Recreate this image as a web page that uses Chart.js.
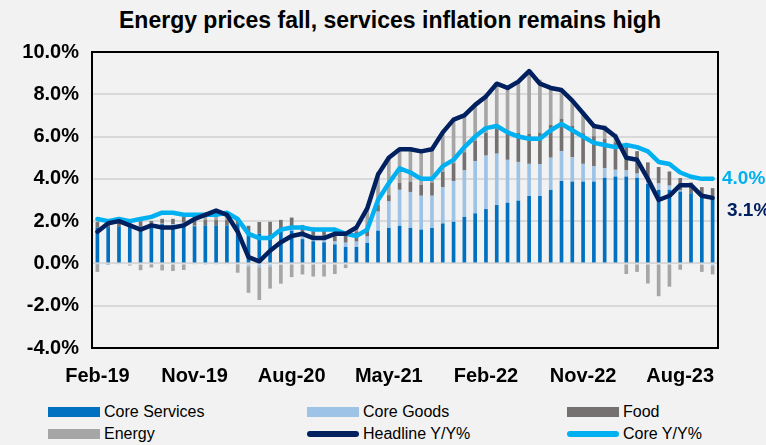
<!DOCTYPE html>
<html>
<head>
<meta charset="utf-8">
<script src="https://cdn.jsdelivr.net/npm/chart.js@4.4.1/dist/chart.umd.min.js"></script>
<style>
    body { margin: 0; background: #f2f2f2; }
    #wrap { position: relative; width: 766px; height: 445px; background: #f2f2f2; font-family: "Liberation Sans", Arial, sans-serif; }
    #title { position: absolute; top: 7px; left: 0; width: 780px; text-align: center; font-weight: bold; font-size: 23px; color: #000; }
    #chartBox { position: absolute; top: 0; left: 0; width: 766px; height: 390px; }
    .legend-item { position: absolute; display: flex; align-items: center; font-size: 16px; color: #000; height: 20px; }
    .swatch { width: 52px; margin-right: 4px; }
</style>
</head>
<body>
<div id="wrap">
    <div id="title">Energy prices fall, services inflation remains high</div>
    <div id="chartBox"><canvas id="cpiChart" width="766" height="390"></canvas></div>
    <div id="legend"></div>
</div>
<script>
// Monthly categories, Feb-19 .. Nov-23
const months = ['Feb-19','Mar-19','Apr-19','May-19','Jun-19','Jul-19','Aug-19','Sep-19','Oct-19','Nov-19','Dec-19',
    'Jan-20','Feb-20','Mar-20','Apr-20','May-20','Jun-20','Jul-20','Aug-20','Sep-20','Oct-20','Nov-20','Dec-20',
    'Jan-21','Feb-21','Mar-21','Apr-21','May-21','Jun-21','Jul-21','Aug-21','Sep-21','Oct-21','Nov-21','Dec-21',
    'Jan-22','Feb-22','Mar-22','Apr-22','May-22','Jun-22','Jul-22','Aug-22','Sep-22','Oct-22','Nov-22','Dec-22',
    'Jan-23','Feb-23','Mar-23','Apr-23','May-23','Jun-23','Jul-23','Aug-23','Sep-23','Oct-23','Nov-23'];

// Contributions to headline (pp)
const coreServices = [1.70,1.72,1.76,1.72,1.74,1.76,1.86,1.80,1.88,1.76,1.80,1.80,1.80,1.86,
    1.30,1.41,1.35,1.50,1.55,1.15,1.05,1.00,0.90,
    0.78,0.78,0.97,1.55,1.68,1.78,1.68,1.60,1.68,1.89,1.97,2.20,2.37,
    2.57,2.76,2.87,2.97,3.19,3.19,3.48,3.90,3.87,3.87,3.87,
    4.05,4.11,4.11,4.05,3.76,3.48,3.48,3.40,3.32,3.16,3.16];
const coreGoods = [-0.02,-0.02,-0.04,-0.05,-0.06,-0.04,0.02,0.06,0.04,0.02,-0.02,-0.06,-0.04,-0.04,
    -0.14,-0.18,-0.14,-0.06,0.06,0.14,0.12,0.16,0.14,
    0.20,0.25,0.30,0.90,1.25,1.70,1.70,1.60,1.52,1.71,1.93,2.20,2.46,
    2.53,2.43,2.03,1.83,1.52,1.51,1.52,1.40,1.16,0.84,0.72,
    0.45,0.32,0.29,0.20,0.10,0.30,0.20,0.05,0.00,-0.05,-0.12];
const food = [0.27,0.29,0.25,0.27,0.26,0.25,0.23,0.25,0.29,0.27,0.25,0.25,0.25,0.27,
    0.48,0.55,0.62,0.56,0.56,0.53,0.53,0.51,0.53,
    0.52,0.49,0.48,0.33,0.30,0.33,0.47,0.51,0.63,0.73,0.84,0.86,0.96,
    1.08,1.20,1.29,1.38,1.43,1.49,1.56,1.53,1.49,1.45,1.43,
    1.38,1.30,1.16,1.06,0.92,0.78,0.67,0.59,0.51,0.45,0.40];
const energy = [-0.38,-0.03,0.13,-0.05,-0.26,-0.15,-0.33,-0.36,-0.31,-0.04,0.25,0.45,0.20,-0.40,
    -1.25,-1.55,-1.05,-0.90,-0.65,-0.52,-0.62,-0.62,-0.50,
    -0.22,0.15,0.80,1.55,1.80,1.55,1.50,1.60,1.60,1.95,2.05,1.80,1.75,
    1.80,2.15,2.15,2.45,3.00,2.50,1.80,1.40,1.20,1.00,0.55,
    0.65,0.40,-0.50,-0.40,-0.95,-1.55,-1.10,-0.30,-0.05,-0.35,-0.40];

// Y/Y % lines
const headline = [1.5,1.9,2.0,1.8,1.6,1.8,1.7,1.7,1.8,2.1,2.3,2.5,2.3,1.5,
    0.3,0.1,0.6,1.0,1.3,1.4,1.2,1.2,1.4,
    1.4,1.7,2.6,4.2,5.0,5.4,5.4,5.3,5.4,6.2,6.8,7.0,7.5,
    7.9,8.5,8.3,8.6,9.1,8.5,8.3,8.2,7.7,7.1,6.5,
    6.4,6.0,5.0,4.9,4.0,3.0,3.2,3.7,3.7,3.2,3.1];
const core = [2.1,2.0,2.1,2.0,2.1,2.2,2.4,2.4,2.3,2.3,2.3,2.3,2.4,2.1,
    1.4,1.2,1.2,1.6,1.7,1.7,1.6,1.6,1.6,
    1.4,1.3,1.6,3.0,3.8,4.5,4.3,4.0,4.0,4.6,4.9,5.5,6.0,
    6.4,6.5,6.2,6.0,5.9,5.9,6.3,6.6,6.3,6.0,5.7,
    5.6,5.5,5.6,5.5,5.3,4.8,4.7,4.3,4.1,4.0,4.0];

const yTicks = { min: -4, max: 10, step: 2 };
const FONT = '"Liberation Sans", Arial, sans-serif';

function barSet(label, data, color) {
    return {
        type: 'bar', label: label, data: data, backgroundColor: color,
        stack: 'contrib', order: 2, barPercentage: 0.34, categoryPercentage: 1.0
    };
}

// each line gets its own stack key so it is not added on top of the other
function lineSet(label, data, color, order) {
    return {
        type: 'line', label: label, data: data, borderColor: color, backgroundColor: color,
        stack: 'line-' + label, borderWidth: 4.5, pointRadius: 0, tension: 0, order: order,
        borderJoinStyle: 'round', borderCapStyle: 'round'
    };
}

// black frame round the plot area
const framePlugin = {
    id: 'frame',
    afterDraw(chart) {
        const { ctx, chartArea: a } = chart;
        ctx.save();
        ctx.strokeStyle = '#000';
        ctx.lineWidth = 2;
        ctx.strokeRect(a.left, a.top, a.right - a.left, a.bottom - a.top);
        ctx.restore();
    }
};

// last-value labels to the right of the lines
const endLabelPlugin = {
    id: 'endLabels',
    afterDatasetsDraw(chart) {
        const { ctx, chartArea: a, scales } = chart;
        const items = [
            { data: core, color: '#00b0f0', dx: 4, dy: 0 },
            { data: headline, color: '#002060', dx: 9, dy: 13 }
        ];
        ctx.save();
        ctx.font = 'bold 19px ' + FONT;
        ctx.textBaseline = 'middle';
        ctx.textAlign = 'left';
        items.forEach(it => {
            const v = it.data[it.data.length - 1];
            ctx.fillStyle = it.color;
            ctx.fillText(v.toFixed(1) + '%', a.right + it.dx, scales.y.getPixelForValue(v) + it.dy);
        });
        ctx.restore();
    }
};

const chart = new Chart(document.getElementById('cpiChart'), {
    data: {
        labels: months,
        datasets: [
            barSet('Core Services', coreServices, '#0070c0'),
            barSet('Core Goods', coreGoods, '#9dc3e6'),
            barSet('Food', food, '#767171'),
            barSet('Energy', energy, '#a6a6a6'),
            lineSet('Headline Y/Y%', headline, '#002060', 0),
            lineSet('Core Y/Y%', core, '#00b0f0', 1)
        ]
    },
    options: {
        responsive: false,
        animation: false,
        layout: { padding: { top: 52, right: 48, left: 0, bottom: 0 } },
        plugins: {
            legend: { display: false },
            tooltip: { enabled: false }
        },
        scales: {
            x: {
                stacked: true,
                grid: { display: false, drawTicks: false },
                border: { display: false },
                afterFit(axis) { axis.height = 42; },
                ticks: {
                    autoSkip: false, maxRotation: 0, padding: 16, color: '#000',
                    font: { family: FONT, size: 20, weight: 'bold' },
                    callback: (v, i) => (i % 9 === 0 ? months[i] : '')
                }
            },
            y: {
                stacked: true,
                min: yTicks.min, max: yTicks.max,
                grid: { color: '#d9d9d9', lineWidth: 2, drawTicks: false },
                border: { display: false },
                afterFit(axis) { axis.width = 92; },
                ticks: {
                    stepSize: yTicks.step, padding: 13, color: '#000',
                    font: { family: FONT, size: 20, weight: 'bold' },
                    callback: v => v.toFixed(1) + '%'
                }
            }
        }
    },
    plugins: [framePlugin, endLabelPlugin]
});

// Legend: 3 columns x 2 rows like the original
const legendPos = [[48, 402], [307, 402], [567, 402], [48, 424], [307, 424], [567, 424]];
const legendEl = document.getElementById('legend');
chart.data.datasets.forEach((ds, i) => {
    const item = document.createElement('div');
    item.className = 'legend-item';
    item.style.left = legendPos[i][0] + 'px';
    item.style.top = legendPos[i][1] + 'px';
    const sw = document.createElement('span');
    sw.className = 'swatch';
    sw.style.background = ds.type === 'line' ? ds.borderColor : ds.backgroundColor;
    sw.style.height = ds.type === 'line' ? '6px' : '10px';
    if (ds.type === 'line') sw.style.borderRadius = '3px';
    item.appendChild(sw);
    item.appendChild(document.createTextNode(ds.label));
    legendEl.appendChild(item);
});
</script>
</body>
</html>
